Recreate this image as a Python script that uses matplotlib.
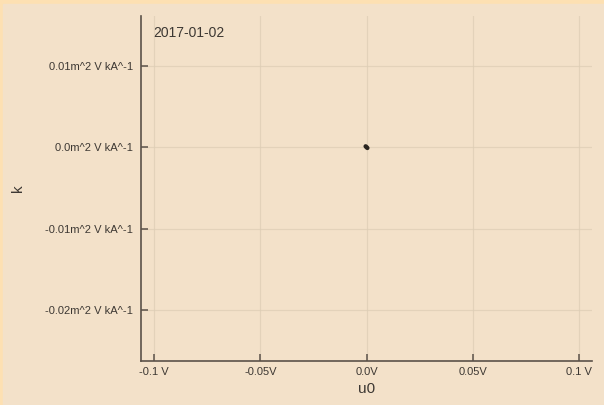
import matplotlib.pyplot as plt
from matplotlib.patches import Rectangle

# data: a tiny cluster around the origin
u0 = [-0.0004, 0.0, 0.0004]
k = [0.0001, 0.0, -0.0001]

xticks = [-0.1, -0.05, 0.0, 0.05, 0.1]
xticklabels = ["-0.1 V", "-0.05V", "0.0V", "0.05V", "0.1 V"]
yticks = [0.01, 0.0, -0.01, -0.02]
yticklabels = ["0.01m^2 V kA^-1", "0.0m^2 V kA^-1",
               "-0.01m^2 V kA^-1", "-0.02m^2 V kA^-1"]

bg = '#f3e1c9'
border = '#fde0b2'
ink = '#3d3833'

plt.rcParams['font.family'] = ['Liberation Sans', 'DejaVu Sans']

W, H = 604, 405
fig = plt.figure(figsize=(W / 100, H / 100), dpi=100, facecolor=border)
# inner panel (the orange strip only shows at top and left)
fig.patches.append(Rectangle((3 / W, -0.1), 2, (H - 4) / H + 0.1,
                             transform=fig.transFigure, color=bg, zorder=-10))

ax = fig.add_axes([141 / W, (H - 361) / H, (592 - 141) / W, (361 - 16) / H])
ax.set_zorder(1)
ax.set_facecolor(bg)
ax.plot(u0, k, color='#2a2520', linewidth=3.2, solid_capstyle='round', zorder=5)

ax.set_xlim(-0.10612, 0.10612)
ax.set_ylim(-0.02627, 0.01611)
ax.set_xticks(xticks)
ax.set_xticklabels(xticklabels)
ax.set_yticks(yticks)
ax.set_yticklabels(yticklabels)

ax.grid(True, color='#ddcdb5', linewidth=0.9, alpha=0.7)
ax.set_axisbelow(True)
for s in ['top', 'right']:
    ax.spines[s].set_visible(False)
for s in ['left', 'bottom']:
    ax.spines[s].set_color('#5b5249')
    ax.spines[s].set_linewidth(1.2)

ax.tick_params(direction='in', length=5, width=1.1, color='#5b5249',
               labelcolor=ink, labelsize=8)
ax.tick_params(axis='y', pad=6)
ax.tick_params(axis='x', pad=4)

ax.set_xlabel("u0", fontsize=11, color=ink, labelpad=4)
ax.set_ylabel("k", fontsize=11, color=ink, labelpad=0)
ax.yaxis.set_label_coords(-116 / (592 - 141), 0.5)

ax.text(0.027, 0.95, "2017-01-02", transform=ax.transAxes, fontsize=10,
        color=ink, va='center', ha='left')

fig.savefig("out.png", dpi=100, facecolor=border)
